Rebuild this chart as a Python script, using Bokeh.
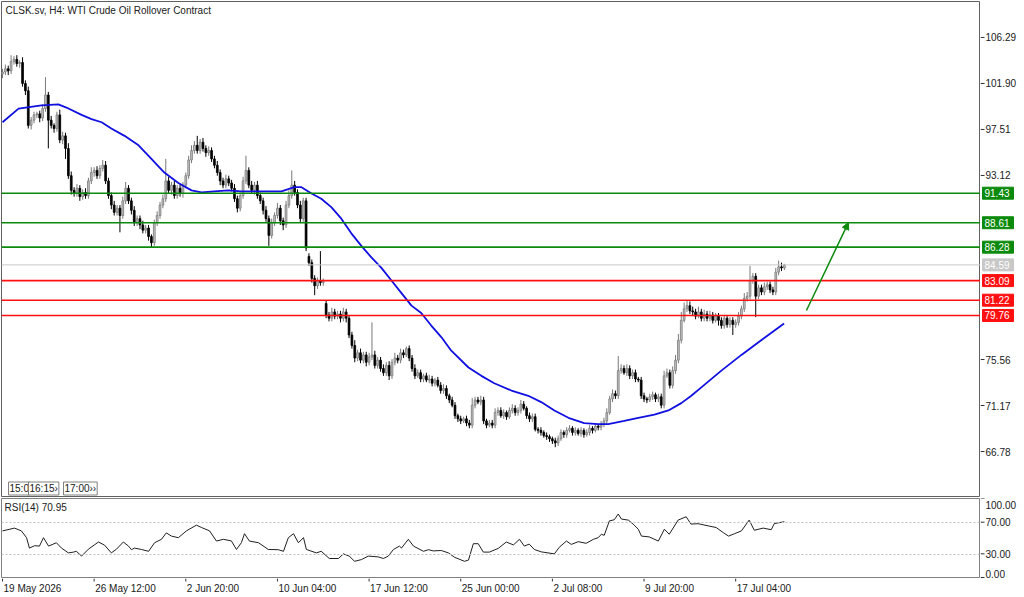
from bokeh.plotting import figure
from bokeh.models import (Span, Label, Arrow, NormalHead, ColumnDataSource, Range1d)
from bokeh.layouts import column, row
from bokeh.core.properties import value
from bokeh.embed import file_html
from bokeh.resources import INLINE

FONT = "Liberation Sans"

# ---------------- data ----------------
closes = [
    103.0, 103.3, 103.1, 104.0, 104.2, 103.8, 103.9, 101.9, 101.2, 97.9,
    98.4, 98.9, 99.0, 98.6, 99.5, 100.8, 98.4, 97.9, 97.6, 98.9,
    96.5, 96.9, 95.7, 93.1, 91.7, 91.4, 91.9, 91.1, 91.5, 91.2,
    92.6, 93.4, 93.6, 93.1, 93.8, 94.1, 92.6, 91.2, 90.3, 89.6,
    90.0, 89.3, 90.7, 91.9, 90.7, 89.8, 88.6, 89.0, 88.4, 87.9,
    88.1, 87.3, 86.7, 88.6, 89.3, 90.3, 90.9, 92.6, 91.7, 92.2,
    91.2, 91.9, 91.4, 92.2, 93.1, 94.6, 95.5, 96.0, 95.5, 96.3,
    95.7, 95.3, 95.5, 94.7, 94.1, 93.4, 92.6, 92.2, 92.8, 92.4,
    91.9, 90.9, 90.0, 91.2, 92.6, 93.6, 92.2, 91.7, 92.2, 91.2,
    90.7, 89.8, 89.0, 87.4, 88.6, 89.3, 90.0, 88.8, 88.4, 90.3,
    91.2, 92.2, 91.5, 90.3, 89.0, 90.7, 86.2, 84.8, 83.3, 82.6,
    83.1, 82.9, 83.1, 79.8, 79.5, 80.1, 79.7, 79.9, 79.5, 80.1,
    79.5, 77.9, 76.9, 75.7, 76.2, 75.5, 76.0, 75.3, 75.8, 76.0,
    75.0, 75.5, 74.7, 74.3, 75.0, 74.0, 75.3, 75.7, 75.5, 76.2,
    76.0, 76.6, 75.7, 74.7, 74.0, 74.3, 73.7, 74.0, 73.6, 73.7,
    73.3, 73.6, 73.1, 72.6, 72.8, 72.1, 71.7, 71.2, 70.2, 69.9,
    69.7, 69.9, 69.5, 69.3, 71.2, 71.7, 71.5, 71.7, 69.7, 69.3,
    69.5, 69.3, 70.5, 70.7, 70.2, 70.5, 70.1, 70.7, 70.9, 70.5,
    70.7, 71.3, 70.9, 70.2, 69.9, 70.1, 68.9, 68.8, 68.6, 68.3,
    68.2, 68.0, 67.8, 67.6, 68.0, 68.6, 68.4, 68.8, 69.0, 68.6,
    68.8, 68.5, 68.8, 68.4, 68.6, 69.0, 68.8, 69.2, 69.1, 69.4,
    69.7, 70.5, 71.8, 72.3, 72.1, 74.5, 74.7, 74.3, 74.7, 74.0,
    74.3, 73.7, 73.6, 72.1, 71.8, 71.7, 72.0, 72.2, 71.8, 72.0,
    71.2, 74.0, 74.3, 73.1, 74.5, 75.5, 77.4, 79.3, 80.4, 80.7,
    80.2, 80.1, 79.7, 80.1, 79.5, 79.9, 79.5, 79.8, 79.3, 79.7,
    79.3, 78.8, 79.5, 78.9, 79.3, 78.9, 79.1, 79.7, 80.4, 81.4,
    81.6, 83.1, 83.5, 81.6, 82.4, 82.0, 82.5, 82.7, 82.2, 82.0,
    83.9, 84.4, 84.3, 84.59,
]
upper_wicks = [
    0.3, 0.4, 0.3, 0.6, 0.3, 0.4, 0.2, 0.5, 0.3, 0.4, 0.3, 0.3, 0.2, 0.3, 0.4, 1.7, 0.3, 0.4, 0.2, 0.3,
    0.5, 0.4, 0.3, 0.5, 0.4, 0.3, 0.4, 0.3, 0.3, 0.4, 0.3, 0.5, 0.3, 0.4, 0.3, 0.5, 0.4, 0.3, 0.3, 0.4,
    0.3, 0.3, 0.4, 0.6, 0.3, 0.3, 0.4, 0.3, 0.3, 0.4, 0.3, 0.3, 0.2, 0.3, 0.4, 0.3, 0.4, 2.1, 0.4, 0.3,
    0.4, 0.3, 0.4, 0.3, 0.3, 0.4, 0.5, 0.4, 0.9, 0.3, 0.4, 0.3, 0.4, 0.3, 0.3, 0.4, 0.3, 0.3, 0.4, 0.3,
    0.3, 0.4, 0.3, 0.3, 0.4, 1.4, 0.3, 0.4, 0.3, 0.4, 0.3, 0.3, 0.4, 0.3, 0.4, 0.3, 0.5, 0.3, 0.3, 0.4,
    0.5, 1.4, 0.4, 0.3, 0.4, 0.3, 0.3, 0.3, 0.3, 0.3, 0.3, 2.8, 0.2, 0.3, 0.3, 0.4, 0.3, 0.3, 0.3, 0.4,
    0.3, 0.3, 0.3, 0.5, 0.3, 0.4, 0.3, 0.3, 0.4, 3.1, 0.4, 0.3, 0.3, 0.4, 0.3, 0.4, 0.3, 0.5, 0.3, 0.4,
    0.3, 0.2, 0.3, 0.3, 0.4, 0.3, 0.3, 0.2, 0.3, 0.4, 0.3, 0.2, 0.3, 0.3, 0.4, 0.3, 0.2, 0.3, 0.3, 0.2,
    0.3, 0.2, 0.3, 0.3, 0.7, 0.3, 0.3, 0.4, 0.3, 0.2, 0.3, 0.3, 0.4, 0.3, 0.3, 0.3, 0.2, 0.3, 0.4, 0.3,
    0.3, 0.4, 0.3, 0.2, 0.3, 0.3, 0.3, 0.2, 0.3, 0.2, 0.3, 0.2, 0.2, 0.3, 0.3, 0.3, 0.2, 0.3, 0.3, 0.2,
    0.3, 0.2, 0.3, 0.2, 0.3, 0.3, 0.2, 0.3, 0.2, 0.3, 0.3, 0.4, 0.3, 0.4, 0.3, 1.4, 0.4, 0.3, 0.4, 0.3,
    0.3, 0.3, 0.2, 0.3, 0.3, 0.2, 0.3, 0.3, 0.2, 0.3, 0.3, 0.5, 0.4, 0.3, 0.4, 0.5, 0.6, 0.8, 0.6, 0.5,
    0.4, 0.4, 0.3, 0.5, 0.3, 0.4, 0.3, 0.4, 0.3, 0.3, 0.3, 0.3, 0.3, 0.2, 0.3, 0.3, 0.3, 0.4, 0.3, 0.5,
    0.4, 1.4, 0.3, 0.3, 0.3, 0.3, 0.4, 0.3, 0.3, 0.3, 0.4, 0.6, 0.4, 0.1,
]
lower_wicks = [
    0.4, 0.3, 0.4, 0.3, 0.3, 0.3, 0.4, 0.3, 0.4, 0.3, 0.4, 0.3, 0.3, 0.4, 0.3, 0.3, 2.7, 0.3, 0.4, 0.3,
    0.3, 0.4, 1.0, 0.3, 0.4, 0.3, 0.3, 0.4, 0.3, 0.3, 0.3, 0.3, 0.4, 0.3, 0.3, 0.3, 0.3, 0.3, 0.4, 0.3,
    0.3, 1.6, 0.3, 0.3, 0.3, 0.4, 0.3, 0.3, 0.4, 0.3, 0.3, 0.4, 0.5, 0.3, 0.3, 0.3, 0.3, 0.3, 0.3, 0.4,
    0.3, 0.3, 0.3, 0.4, 0.3, 0.3, 0.3, 0.3, 0.3, 0.3, 0.3, 0.4, 0.3, 0.3, 0.3, 0.3, 0.4, 0.3, 0.3, 0.3,
    0.3, 0.3, 0.4, 0.3, 0.3, 0.3, 0.3, 0.3, 0.4, 0.3, 0.3, 0.4, 0.3, 1.0, 0.3, 0.3, 0.3, 0.4, 0.5, 0.3,
    0.3, 0.3, 0.3, 0.3, 0.4, 0.3, 0.3, 0.3, 0.4, 0.9, 0.3, 0.3, 0.3, 0.3, 0.3, 0.3, 0.3, 0.3, 0.4, 0.3,
    0.4, 0.3, 0.3, 0.4, 0.3, 0.3, 0.3, 0.4, 0.3, 0.3, 0.3, 0.3, 0.3, 0.3, 0.3, 0.4, 0.3, 0.3, 0.3, 0.3,
    0.3, 0.2, 0.3, 0.3, 0.3, 0.2, 0.3, 0.3, 0.2, 0.3, 0.3, 0.3, 0.2, 0.3, 0.3, 0.3, 0.3, 0.2, 0.3, 0.3,
    0.3, 0.2, 0.3, 0.3, 0.3, 0.3, 0.2, 0.3, 0.3, 0.3, 0.2, 0.3, 0.3, 0.3, 0.2, 0.3, 0.3, 0.2, 0.3, 0.3,
    0.3, 0.3, 0.2, 0.3, 0.3, 0.3, 0.2, 0.3, 0.3, 0.2, 0.3, 0.3, 0.3, 0.4, 0.3, 0.2, 0.3, 0.3, 0.2, 0.3,
    0.3, 0.2, 0.3, 0.3, 0.2, 0.3, 0.3, 0.2, 0.3, 0.3, 0.3, 0.3, 0.2, 0.3, 0.3, 0.3, 0.3, 0.2, 0.3, 0.3,
    0.3, 0.3, 0.2, 0.3, 0.3, 0.3, 0.2, 0.3, 0.3, 0.3, 0.3, 0.3, 0.2, 0.3, 0.3, 0.3, 0.3, 0.3, 0.2, 0.3,
    0.3, 0.3, 0.3, 0.2, 0.3, 0.3, 0.3, 0.3, 0.3, 0.2, 0.5, 0.3, 0.3, 0.3, 0.3, 1.0, 0.3, 0.3, 0.3, 0.3,
    0.3, 0.3, 0.3, 2.0, 0.3, 0.3, 0.3, 0.3, 0.3, 0.3, 0.3, 0.3, 0.3, 0.2,
]
first_open = 102.8
gap_opens = {107: 85.4, 113: 80.9}

ma_bars = [0, 5.6, 13.6, 19.5, 22.3, 27.6, 31.1, 34.6, 38, 42.6,
           47.5, 52, 56.5, 61.4, 66, 69.5, 74, 78.9, 83.4, 90.4,
           97.4, 101.9, 104.4, 107.9, 111.3, 114.8, 118.3, 121.8, 125.3, 128.8,
           132.3, 135.8, 139.3, 142.8, 146.2, 149.7, 153.2, 156.7, 162.7, 167.2,
           171.7, 177.7, 183.6, 188.1, 192.7, 197.6, 203.1, 208, 211.5, 217.1,
           222, 227.6, 232.5, 237, 240.5, 244, 251, 258, 264.9, 272.9]
ma_values = [98.2, 99.5, 99.8, 99.9, 99.6, 98.9, 98.5, 98.2, 97.6, 96.9,
             96.0, 94.7, 93.4, 92.4, 91.7, 91.5, 91.6, 91.7, 91.6, 91.6,
             91.6, 92.0, 92.0, 91.4, 90.9, 90.1, 89.0, 87.6, 86.4, 85.3,
             84.3, 83.1, 81.9, 80.7, 80.0, 78.8, 77.7, 76.4, 74.8, 74.0,
             73.3, 72.6, 72.1, 71.5, 70.7, 70.0, 69.5, 69.4, 69.4, 69.7,
             70.0, 70.3, 70.7, 71.4, 72.1, 72.9, 74.5, 76.0, 77.4, 79.0]

rsi_bars = [0, 4.2, 6.6, 8.4, 9.4, 11.2, 12.9, 14.3, 16.1, 18.8, 20.6, 23, 24.8, 25.8, 27.6,
            30, 33.5, 35.6, 38, 39.8, 42.2, 44, 45, 46.1, 48.5, 51, 53.1, 55.5, 57.2, 59,
            61.4, 64.2, 67.7, 69.5, 72.3, 74.7, 77.1, 79.9, 81.7, 83.4, 84.5, 86.2, 89.4, 92.8,
            96.3, 98.1, 99.8, 101.6, 103.3, 105.1, 106.1, 109.6, 111.3, 114.1, 117.3, 119, 121.1,
            122.9, 125.3, 127.7, 131.2, 133, 134.7, 136.5, 138.6, 139.3, 141.7, 143.5, 147, 148.7,
            150.4, 153.2, 155.7, 157.8, 161.3, 162.7, 164.4, 166.1, 167.9, 170, 173.1, 175.9,
            178.4, 180.5, 182.2, 183.9, 185.7, 188.1, 192.7, 194.4, 196.9, 198.6, 201, 203.8,
            206.3, 208, 209.1, 210.1, 211.9, 213.6, 215, 216.1, 218.5, 220.2, 222, 223.1, 225.8,
            229, 231.1, 232.8, 235.9, 238.7, 240.4, 242.9, 246.4, 249.2, 251.7, 253.5, 255.6,
            258, 260.7, 262.5, 265.6, 268.4, 269.5, 273]
rsi_values = [59.5, 63, 59.5, 51, 38, 41, 40.5, 51, 40.5, 44.7, 38, 32, 33, 34, 28,
              36.7, 45.6, 41.8, 32, 36.7, 45.6, 40.5, 36, 38, 36.3, 34, 44.7, 49, 57, 53,
              51, 59.5, 66.7, 63.7, 59.5, 46.8, 49, 47, 36.3, 44.7, 56, 46.8, 44.7, 36.3,
              36, 34, 51, 56, 44.7, 51, 36.3, 32, 34, 25, 25, 30.8, 28,
              21.5, 23.6, 28, 27, 25, 28, 36.3, 40.5, 38, 49, 40.5, 34, 36,
              34.5, 35, 32, 26.6, 21.5, 23, 43.5, 43.5, 33, 33, 37.6, 45.6,
              42, 49, 40.5, 43, 36.3, 33.3, 30.8, 39, 46.8, 42.6, 46, 44,
              49, 51, 55.3, 54, 72, 73.4, 80.6, 74.3, 73, 68, 61.6, 53, 52,
              46.8, 61.6, 55.3, 73, 77.2, 68, 68.5, 65.8, 63.7, 57.3, 53, 56,
              59.5, 73, 60.3, 63, 61, 68.7, 70.95]

resistance_levels = [91.43, 88.61, 86.28]
support_levels = [83.09, 81.22, 79.76]
last_price = 84.59
price_ticks = [106.29, 101.90, 97.51, 93.12, 75.56, 71.17, 66.78]
rsi_ticks = [100, 70, 30, 0]
rsi_levels = [70, 30]
time_tick_bars = [0, 32, 64, 96, 128, 160, 192, 224, 256]
time_tick_labels = ["19 May 2026", "26 May 12:00", "2 Jun 20:00", "10 Jun 04:00",
                    "17 Jun 12:00", "25 Jun 00:00", "2 Jul 08:00", "9 Jul 20:00",
                    "17 Jul 04:00"]
arrow_start = (280.7, 80.24)
arrow_end = (295.4, 88.64)
title_text = "CLSK.sv, H4:  WTI Crude Oil Rollover Contract"
session_flags = ["15:0", "16:15\u203a", "17:00\u203a\u203a"]

# ---------------- styles ----------------
GREEN = "#0b8a0b"
RED = "#ff1010"
GREY_LINE = "#c8c8c8"
BLUE = "#1010e0"
FRAME = "#808080"
TEXT = "#202020"

x_range = Range1d(-0.35, 341.48)
price_range = Range1d(62.49, 109.72)
rsi_range = Range1d(0, 100)
# right-hand RSI strip spans the RSI pane plus the time-scale row below it
rsi_strip_range = Range1d(-25.3, 100)


def base_fig(w, h, xr, yr, top=0, bottom=0, left=0):
    f = figure(width=w, height=h, x_range=xr, y_range=yr, output_backend="svg",
               toolbar_location=None, x_axis_location=None, y_axis_location=None,
               min_border_left=left, min_border_right=0, min_border_top=top,
               min_border_bottom=bottom)
    f.grid.visible = False
    f.outline_line_color = None
    f.background_fill_color = "white"
    f.border_fill_color = "white"
    return f


# ---------------- candles ----------------
n = len(closes)
idx = list(range(n))
opens = [first_open] + closes[:-1]
for k, v in gap_opens.items():
    opens[k] = v
tops = [max(o, c) for o, c in zip(opens, closes)]
bots = [min(o, c) for o, c in zip(opens, closes)]
highs = [t + u for t, u in zip(tops, upper_wicks)]
lows = [b - l for b, l in zip(bots, lower_wicks)]
is_up = [c >= o for o, c in zip(opens, closes)]


def subset(flag):
    sel = [i for i in idx if is_up[i] == flag]
    return ColumnDataSource(dict(
        x=sel, top=[tops[i] for i in sel], bottom=[bots[i] for i in sel],
        high=[highs[i] for i in sel], low=[lows[i] for i in sel]))


up_src = subset(True)
dn_src = subset(False)

p = base_fig(980, 497, x_range, price_range, top=1, bottom=1, left=1)
p.outline_line_color = "#606060"

p.segment(x0="x", y0="low", x1="x", y1="high", source=up_src, line_color="#7a7a7a", line_width=1)
p.segment(x0="x", y0="low", x1="x", y1="high", source=dn_src, line_color="black", line_width=1)
p.vbar(x="x", width=0.62, top="top", bottom="bottom", source=up_src,
       fill_color="#c4c4c4", line_color="#7a7a7a", line_width=0.8)
p.vbar(x="x", width=0.62, top="top", bottom="bottom", source=dn_src,
       fill_color="black", line_color="black", line_width=0.8)

p.line(ma_bars, ma_values, line_color=BLUE, line_width=1.8)

p.add_layout(Span(location=last_price, dimension="width", line_color=GREY_LINE, line_width=1))
for lv in resistance_levels:
    p.add_layout(Span(location=lv, dimension="width", line_color=GREEN, line_width=1.6))
for lv in support_levels:
    p.add_layout(Span(location=lv, dimension="width", line_color=RED, line_width=1.6))

p.add_layout(Arrow(end=NormalHead(size=7, fill_color=GREEN, line_color=GREEN),
                   x_start=arrow_start[0], y_start=arrow_start[1],
                   x_end=arrow_end[0], y_end=arrow_end[1],
                   line_color=GREEN, line_width=1.5))

p.add_layout(Label(x=4, y=486, x_units="screen", y_units="screen", text=title_text,
                   text_font=FONT, text_font_size="10px", text_color=TEXT,
                   text_baseline="middle"))

flag_x = [7, 27, 62]
for fx, ft in zip(flag_x, session_flags):
    p.add_layout(Label(x=fx, y=8, x_units="screen", y_units="screen", text=ft,
                       text_font=FONT, text_font_size="10px", text_color=TEXT,
                       text_baseline="middle", background_fill_color="white",
                       border_line_color="#808080", padding=1))

# ---------------- right price scale (pixel-wide strip) ----------------
pr = base_fig(44, 497, Range1d(0, 44), price_range, top=1, bottom=1)
pr.segment(x0=[0] * len(price_ticks), y0=price_ticks, x1=[4] * len(price_ticks), y1=price_ticks,
           line_color="#303030", line_width=1)
pr.text(x=[5] * len(price_ticks), y=price_ticks, text=[f"{t:.2f}" for t in price_ticks],
        text_font=value(FONT), text_font_size="10px", text_color=TEXT,
        text_baseline="middle", text_align="left")

box_levels = resistance_levels + [last_price] + support_levels
box_colors = [GREEN] * len(resistance_levels) + [GREY_LINE] + [RED] * len(support_levels)
pr.rect(x=[17.5] * len(box_levels), y=box_levels, width=31, height=12,
        width_units="screen", height_units="screen", fill_color=box_colors,
        line_color=box_colors)
pr.text(x=[4] * len(box_levels), y=box_levels, text=[f"{v:.2f}" for v in box_levels],
        text_font=value(FONT), text_font_size="10px", text_color="white",
        text_baseline="middle", text_align="left")

# ---------------- RSI panel ----------------
r = base_fig(980, 81, x_range, rsi_range, top=1, bottom=0, left=1)
r.outline_line_color = FRAME
for lv in rsi_levels:
    r.add_layout(Span(location=lv, dimension="width", line_color="#c0c0c0",
                      line_width=1, line_dash="2 2"))
r.line(rsi_bars, rsi_values, line_color=TEXT, line_width=1)
r.add_layout(Label(x=3, y=71, x_units="screen", y_units="screen",
                   text=f"RSI(14) {rsi_values[-1]:.2f}", text_font=FONT,
                   text_font_size="10px", text_color=TEXT, text_baseline="middle"))

rr = base_fig(44, 100, Range1d(0, 44), rsi_strip_range, top=1, bottom=0)
rr.segment(x0=[0] * len(rsi_ticks), y0=rsi_ticks, x1=[4] * len(rsi_ticks), y1=rsi_ticks,
           line_color="#303030", line_width=1)
rsi_label_pos = [92, 70, 30, 5]
rr.text(x=[5] * len(rsi_ticks), y=rsi_label_pos, text=[f"{t:.2f}" for t in rsi_ticks],
        text_font=value(FONT), text_font_size="10px", text_color=TEXT,
        text_baseline="middle", text_align="left")

# ---------------- time scale strip ----------------
ts = base_fig(980, 19, x_range, Range1d(19, 0), top=0, bottom=0, left=1)
ts.segment(x0=time_tick_bars, y0=[0] * len(time_tick_bars), x1=time_tick_bars,
           y1=[3] * len(time_tick_bars), line_color="#303030", line_width=1)
ts.text(x=time_tick_bars, y=[9.5] * len(time_tick_bars), text=time_tick_labels,
        x_offset=1, text_font=value(FONT), text_font_size="10px", text_color=TEXT,
        text_baseline="middle", text_align="left")

layout = row(column(p, r, ts, spacing=0), column(pr, rr, spacing=0), spacing=0)
open("out.html", "w").write(file_html(layout, INLINE))
